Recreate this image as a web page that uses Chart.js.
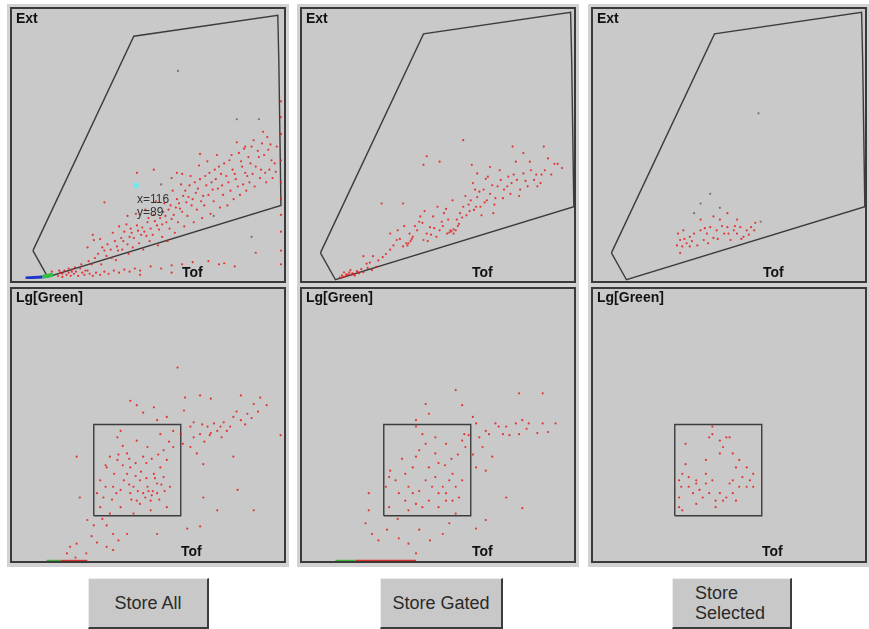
<!DOCTYPE html>
<html>
<head>
<meta charset="utf-8">
<script src="https://cdn.jsdelivr.net/npm/chart.js@4.4.1/dist/chart.umd.min.js"></script>
<style>
  html,body{margin:0;padding:0;background:#fff;width:869px;height:629px;overflow:hidden;font-family:"Liberation Sans",Arial,sans-serif;}
  .rim{position:absolute;background:#d2d2d2;}
  canvas{position:absolute;}
  .lbl{position:absolute;font-weight:bold;font-size:14px;line-height:14px;color:#111;white-space:nowrap;}
  .rd{position:absolute;font-size:12px;line-height:12px;color:#333;white-space:nowrap;}
  .btn{position:absolute;background:#c8c8c8;box-sizing:border-box;border-top:1px solid #ececec;border-left:1px solid #ececec;border-right:2px solid #3c3c3c;border-bottom:2px solid #3c3c3c;font-size:18px;color:#2a2a2a;display:flex;align-items:center;justify-content:center;}
</style>
</head>
<body>
<div class="rim" style="left:7px;top:4px;width:282px;height:563px"></div>
<div class="rim" style="left:297px;top:4px;width:282px;height:563px"></div>
<div class="rim" style="left:588px;top:4px;width:281px;height:563px"></div>

<canvas id="c1" width="276" height="276" style="left:10px;top:7px"></canvas>
<canvas id="c2" width="276" height="276" style="left:300px;top:7px"></canvas>
<canvas id="c3" width="276" height="276" style="left:591px;top:7px"></canvas>
<canvas id="c4" width="276" height="276" style="left:10px;top:287px"></canvas>
<canvas id="c5" width="276" height="276" style="left:300px;top:287px"></canvas>
<canvas id="c6" width="276" height="276" style="left:591px;top:287px"></canvas>

<div class="lbl" style="left:16px;top:11px">Ext</div>
<div class="lbl" style="left:306px;top:11px">Ext</div>
<div class="lbl" style="left:597px;top:11px">Ext</div>
<div class="lbl" style="left:182px;top:265px">Tof</div>
<div class="lbl" style="left:472px;top:265px">Tof</div>
<div class="lbl" style="left:763px;top:265px">Tof</div>
<div class="lbl" style="left:16px;top:290px">Lg[Green]</div>
<div class="lbl" style="left:306px;top:290px">Lg[Green]</div>
<div class="lbl" style="left:597px;top:290px">Lg[Green]</div>
<div class="lbl" style="left:181px;top:544px">Tof</div>
<div class="lbl" style="left:472px;top:544px">Tof</div>
<div class="lbl" style="left:762px;top:544px">Tof</div>
<div class="rd" style="left:137px;top:193px">x=116</div>
<div class="rd" style="left:137px;top:206px">y=89</div>

<div class="btn" style="left:88px;top:578px;width:121px;height:51px">Store All</div>
<div class="btn" style="left:380px;top:578px;width:123px;height:51px">Store Gated</div>
<div class="btn" style="left:672px;top:578px;width:120px;height:51px;justify-content:flex-start;padding-left:22px;line-height:20px">Store<br>Selected</div>

<script>
// ---- axis range (channels) ----
const axisMin = 0;
const axisMax = 255;

// ---- gates: [Tof, Ext] and [Tof, Lg(Green)] ----
const extGate = [[18,27],[114,231],[251,251],[252,206],[254,70],[32,2],[18,27]];
const greenGate = [[77,43],[158,43],[158,128],[77,128],[77,43]];

// ---- cursor readout ----
const cursorPoint = [[116,89]];

// ---- Ext vs Tof, all events ----
const allExtRed = [
[36,7],[43,8],[46,5],[52,10],[55,7],[58,11],[64,14],[68,8],[71,17],[74,14],[77,20],[80,24],[83,14],[86,27],[89,33],[93,20],[96,36],[99,27],[102,39],[105,45],[108,33],[111,48],[114,39],[117,51],[121,42],[124,45],[127,54],[130,48],[133,61],[136,51],[139,58],[142,64],[145,54],[149,70],[152,61],[155,76],[158,67],[161,79],[164,73],[167,89],[170,76],[173,82],[177,95],[180,79],[183,89],[186,101],[189,85],[192,95],[195,107],[198,89],[202,98],[205,113],[208,104],[211,95],[214,120],[217,107],[220,101],[223,116],[226,126],[230,107],[233,116],[236,129],[239,101],[242,123],[245,113],[250,126],
[42,3],[44,6],[46,2],[48,8],[50,4],[52,6],[54,3],[55,9],[57,5],[59,7],[61,3],[63,10],[65,6],[67,4],[70,8],[72,5],[75,3],[78,6],[82,4],[86,7],[90,5],[95,8],[100,6],[105,9],[110,7],[115,10],[120,8],[130,12],[140,10],[150,13],[160,14],[170,16],[185,17],[200,15],
[92,28],[98,31],[104,36],[110,40],[112,44],[118,46],[122,49],[126,41],[128,58],[134,55],[138,47],[141,52],[144,60],[147,66],[150,57],[154,68],[157,72],[160,64],[163,84],[166,78],[169,70],[172,92],[175,86],[178,74],[182,98],[185,80],[188,92],[191,104],[194,86],[197,100],[200,110],[204,92],[207,118],[210,100],[213,88],[216,112],[219,124],[222,98],[225,110],[228,132],[232,122],[235,104],[238,118],[241,135],[244,128],[248,110],
[70,30],[75,42],[82,38],[88,22],[94,44],[97,18],[103,28],[107,52],[109,24],[113,30],[116,62],[119,34],[123,28],[125,66],[129,36],[132,42],[135,74],[137,32],[141,40],[143,72],[146,36],[148,48],[151,84],[153,44],[156,54],[159,90],[162,50],[165,60],[168,98],[171,54],[174,66],[176,108],[179,58],[181,70],[184,112],[187,62],[190,74],[193,118],[196,68],[199,80],[203,70],[206,84],[209,76],[212,130],[215,80],[218,90],[221,84],[224,92],[227,100],[229,88],[234,96],[237,140],[240,92],[243,104],[246,96],[249,102],[108,60],[100,50],[160,100],[150,96],
[220,126],[177,119],[133,104],[117,101],[86,73],[155,101],[84,30],[76,37],
[195,14],[230,25],[120,4],[150,6],[178,8],[210,12],
[254,169],[254,154],[254,138],[254,113],[254,92],[254,76],[254,61],[254,45],[254,27],[254,14]
];
const allExtGrey = [[156,198],[212,152],[233,152],[140,90],[190,60],[226,40]];
const allExtBlue = [[11,1],[27,2]];
const allExtGreen = [[27,2],[37,4]];

// ---- Ext vs Tof, gated events ----
const gatedExtRed = [
[61,17],[70,14],[76,23],[83,30],[89,39],[95,33],[98,36],[101,45],[108,48],[111,61],[114,39],[117,45],[120,51],[123,61],[126,42],[129,48],[133,64],[136,45],[139,48],[142,45],[145,58],[148,64],[151,70],[158,76],[161,67],[164,79],[167,70],[170,86],[173,76],[176,82],[179,64],[183,89],[186,95],[192,89],[195,82],[201,95],[204,86],[207,101],[211,89],[220,89],[226,126],[236,110],[239,110],[197,126],[207,120],[159,109],[151,132],[114,109],[117,117],[129,112],[83,45],[67,24],[58,24],[75,73],[164,101],[176,107],[95,73],
[36,4],[38,6],[40,5],[42,7],[44,7],[45,9],[47,7],[48,8],[50,6],[52,10],[54,8],[56,12],[40,9],[46,11],[58,9],[62,13],[66,11],[38,4],[43,6],[49,7],[53,9],
[100,36],[102,38],[99,34],[140,47],[142,49],[144,48],[138,46],
[64,18],[72,20],[79,26],[86,34],[92,40],[104,42],[106,52],[113,55],[118,38],[124,50],[131,56],[135,68],[146,52],[154,62],[156,72],[162,86],[168,62],[172,96],[180,72],[188,78],[198,100],[214,104],[217,95],[224,100],[230,115],
[90,48],[96,52],[103,40],[110,56],[115,66],[121,44],[127,70],[132,52],[137,58],[141,76],[147,54],[150,60],[153,80],[157,66],[160,92],[163,70],[166,84],[171,74],[174,98],[178,90],[181,78],[185,104],[189,86],[193,98],[196,92],[200,112],[203,80],[209,94],[213,112],[219,100],[223,92],[227,104],[233,100],[243,106]
];

// ---- Ext vs Tof, selected events ----
const selectedExtRed = [
[80,45],[82,39],[84,33],[85,48],[88,36],[91,42],[95,45],[98,34],[101,48],[104,39],[107,45],[110,51],[113,41],[116,48],[119,58],[123,45],[126,51],[129,39],[132,48],[135,45],[138,51],[141,42],[144,48],[148,51],[151,48],[152,55],[82,27],[91,33],[101,58],[113,61],[126,64],[135,58],[79,34],
[86,40],[93,38],[105,50],[117,40],[127,45],[133,52],[146,44],[108,36],[121,52],[139,40]
];
const selectedExtGrey = [[155,157],[110,82],[101,73],[119,69],[95,64],[157,56]];

// ---- Lg(Green) vs Tof, all events ----
const allGreenRed = [
[83,76],[86,60],[89,88],[95,70],[99,95],[102,51],[105,76],[108,82],[111,64],[114,70],[117,57],[120,76],[123,64],[127,70],[130,57],[133,82],[136,73],[139,88],[142,79],[145,95],[148,70],[151,107],[117,113],[127,107],[108,101],[99,116],[83,51],[92,45],[114,45],[130,48],[80,64],[102,67],[120,54],[136,64],[145,51],[111,88],[123,98],[139,119],[151,122],[102,122],
[64,60],[61,98],[71,39],[77,34],[89,34],[95,26],[55,14],[61,17],[52,8],[89,14],[95,11],[108,26],[136,26],[164,31],[176,33],[179,60],[192,48],[211,67],[226,48],
[158,119],[167,126],[176,119],[183,126],[189,129],[195,126],[201,122],[207,135],[214,132],[220,138],[226,147],[232,153],[214,155],[170,116],[173,101],[179,91],[167,107],[162,153],[176,155],[186,152],[155,181],[123,139],[117,146],[133,144],[111,150],[251,118],[207,98],[161,141],[145,135],[136,132],
[125,60],[128,66],[131,62],[118,66],[134,78],[140,72],[112,58],[96,82],[104,90],[88,70],[185,118],[192,122],[198,130],[180,112],
[100,100],[104,108],[110,96],[116,92],[121,84],[126,92],[131,96],[137,100],[142,104],[147,112],[110,72],[116,80],[126,78],[132,66],[138,58],[143,66],[94,58],[98,64],[88,90],[92,98],[160,110],[170,130],[178,128],[186,120],[196,116],[204,126],[210,140],[218,128],[224,134],[230,140],[238,146],[75,24],[80,18],[70,8],[60,4],[100,20],[85,40]
];
const allGreenGreen = [[33,1],[46,1]];
const allGreenStreak = [[46,1],[71,1]];

// ---- Lg(Green) vs Tof, gated events ----
const gatedGreenRed = [
[82,79],[83,85],[79,70],[97,82],[104,64],[107,126],[113,119],[116,110],[107,98],[119,88],[125,79],[132,70],[135,64],[138,76],[141,82],[144,70],[147,60],[150,113],[152,119],[153,107],[135,110],[125,116],[97,57],[100,48],[113,51],[119,57],[128,51],[135,57],[141,57],[107,54],[91,64],[88,76],[125,101],[150,76],[144,45],
[144,160],[150,146],[116,147],[119,138],[107,132],[160,135],[163,129],[166,116],[172,122],[169,107],[175,119],[181,129],[188,119],[191,126],[200,129],[203,119],[206,132],[212,129],[225,129],[237,129],[230,121],[203,157],[225,157],[163,88],[172,85],[178,98],[191,60],[206,50],[63,64],[63,48],[60,36],[66,26],[72,20],[91,22],[100,17],[107,8],[132,26],[138,36],[163,31],[172,39],[163,8],[82,51],
[100,70],[110,66],[116,76],[122,70],[128,64],[134,90],[140,96],[146,100],[110,104],[104,88],[94,96],[128,92],[156,118],[184,126],[194,118],[210,124],[220,120],[160,100],[90,40],[110,30],[120,20],[80,30]
];
const gatedGreenGreen = [[32,1],[51,1]];
const gatedGreenStreak = [[51,1],[107,1]];

// ---- Lg(Green) vs Tof, selected events ----
const selectedGreenRed = [
[81,76],[83,70],[84,82],[81,60],[81,51],[84,48],[87,91],[90,70],[94,64],[97,76],[100,67],[103,60],[106,73],[109,64],[112,76],[115,57],[119,64],[122,57],[125,60],[128,73],[131,64],[134,57],[137,70],[140,79],[144,88],[147,76],[150,82],[144,70],[134,88],[137,95],[131,101],[119,101],[122,107],[125,116],[119,113],[128,116],[109,116],[112,119],[112,126],[106,82],[87,110],[106,95],[97,54],[115,51],[131,76],[150,70],[97,73],[90,79]
];

const toXY = arr => arr.map(p => ({x: p[0], y: p[1]}));

const panelPlugin = {
  id: 'panel',
  beforeDraw(chart) {
    const c = chart.ctx;
    c.save();
    c.fillStyle = '#c9c9c9';
    c.fillRect(0, 0, chart.width, chart.height);
    c.restore();
  },
  afterDraw(chart) {
    const c = chart.ctx;
    c.save();
    c.strokeStyle = '#3a3a3a';
    c.lineWidth = 2;
    c.strokeRect(1, 1, chart.width - 2, chart.height - 2);
    c.restore();
  }
};

function gateSet(arr) {
  return {data: toXY(arr), showLine: true, borderColor: '#3c3c3c', borderWidth: 1.4, pointRadius: 0, fill: false, tension: 0, order: 5};
}
function dotSet(arr, color, r) {
  return {data: toXY(arr), showLine: false, pointRadius: r || 1.1, pointHoverRadius: 0, backgroundColor: color, borderWidth: 0, order: 2};
}
function streakSet(arr, color, w) {
  return {data: toXY(arr), showLine: true, borderColor: color, borderWidth: w, pointRadius: 0, fill: false, order: 1};
}

function makePanel(id, datasets) {
  new Chart(document.getElementById(id), {
    type: 'scatter',
    data: {datasets},
    options: {
      responsive: false,
      animation: false,
      devicePixelRatio: 1,
      events: [],
      layout: {padding: 1},
      plugins: {legend: {display: false}, tooltip: {enabled: false}},
      scales: {
        x: {type: 'linear', min: axisMin, max: axisMax, display: false},
        y: {type: 'linear', min: axisMin, max: axisMax, display: false}
      }
    },
    plugins: [panelPlugin]
  });
}

const RED = 'rgba(232,28,28,0.85)';
const GREY = 'rgba(110,95,95,0.85)';

makePanel('c1', [
  gateSet(extGate),
  dotSet(allExtRed, RED),
  dotSet(allExtGrey, GREY),
  streakSet(allExtBlue, '#2036c8', 3),
  streakSet(allExtGreen, '#30c040', 4),
  {data: toXY(cursorPoint), pointStyle: 'rect', pointRadius: 4, backgroundColor: '#78e4ec', borderWidth: 0, order: 0}
]);
makePanel('c2', [
  gateSet(extGate),
  dotSet(gatedExtRed, RED)
]);
makePanel('c3', [
  gateSet(extGate),
  dotSet(selectedExtRed, RED),
  dotSet(selectedExtGrey, GREY)
]);
makePanel('c4', [
  gateSet(greenGate),
  dotSet(allGreenRed, RED),
  streakSet(allGreenGreen, '#3cb43c', 2),
  streakSet(allGreenStreak, '#d83030', 2)
]);
makePanel('c5', [
  gateSet(greenGate),
  dotSet(gatedGreenRed, RED),
  streakSet(gatedGreenGreen, '#3cb43c', 2),
  streakSet(gatedGreenStreak, '#d83030', 2)
]);
makePanel('c6', [
  gateSet(greenGate),
  dotSet(selectedGreenRed, RED)
]);
</script>
</body>
</html>
